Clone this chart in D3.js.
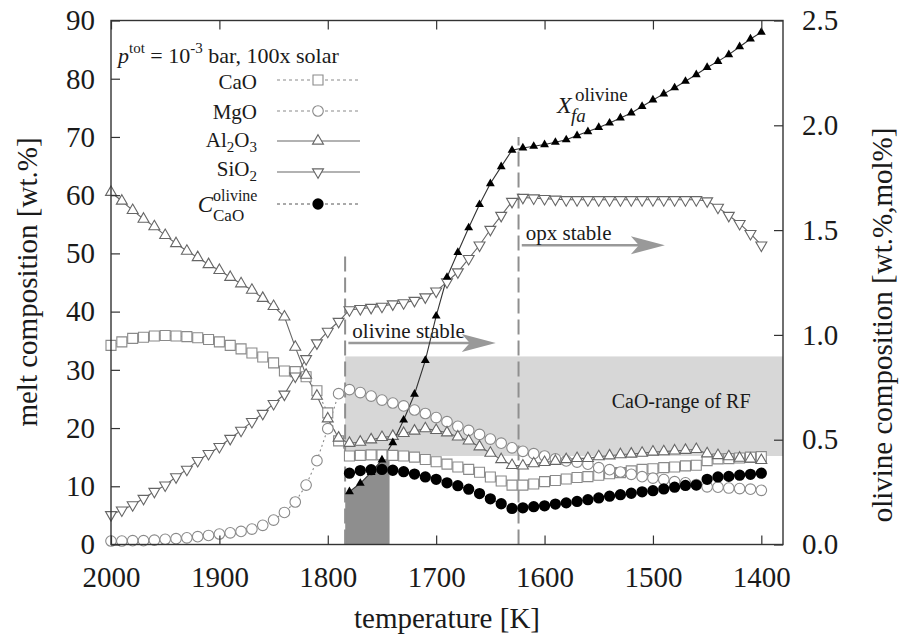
<!DOCTYPE html>
<html>
<head>
<meta charset="utf-8">
<script src="https://cdn.jsdelivr.net/npm/d3@7"></script>
<style>
  body { margin: 0; background: #fff; }
  svg { display: block; }
  text { font-family: "Liberation Serif", "Times New Roman", Times, serif; fill: #1a1a1a; }
</style>
</head>
<body>
<svg id="chart" width="906" height="638"></svg>
<script>
// Melt composition along the cooling path, 10 K steps
const temperature = [2000,1990,1980,1970,1960,1950,1940,1930,1920,1910,1900,1890,1880,1870,1860,1850,1840,1830,1820,1810,1800,1790,1780,1770,1760,1750,1740,1730,1720,1710,1700,1690,1680,1670,1660,1650,1640,1630,1620,1610,1600,1590,1580,1570,1560,1550,1540,1530,1520,1510,1500,1490,1480,1470,1460,1450,1440,1430,1420,1410,1400];

const cao   = [34.2,34.8,35.4,35.6,35.8,35.9,35.8,35.7,35.5,35.2,34.8,34.2,33.6,32.9,32.2,31.2,29.8,29.7,28.8,26.4,22.6,17.8,15.2,15.3,15.4,15.4,15.3,15.2,15.0,14.6,14.2,13.8,13.3,12.9,12.4,11.6,10.9,10.2,10.2,10.4,10.8,11.0,11.25,11.5,11.65,11.9,12.15,12.35,12.65,12.9,13.0,13.2,13.3,13.5,13.6,14.4,14.7,14.75,14.85,15.0,15.1];
const mgo   = [0.6,0.6,0.65,0.65,0.75,0.9,1.0,1.15,1.35,1.55,1.8,2.0,2.25,2.65,3.3,4.2,5.5,7.3,10.2,14.4,19.9,25.9,26.6,26.1,25.5,24.8,24.3,23.8,23.1,22.5,21.8,21.1,20.3,19.6,18.9,18.1,17.4,16.6,16.0,15.6,15.2,14.7,14.35,14.15,13.8,13.2,12.85,12.45,12.05,11.65,11.4,11.15,10.8,10.6,10.3,9.9,9.85,9.7,9.6,9.5,9.3];
const al2o3 = [60.5,59.0,57.4,55.9,54.6,53.1,51.7,50.4,49.3,48.1,47.1,45.9,44.8,43.7,42.3,40.9,39.1,33.9,29.1,25.5,21.6,18.3,17.4,17.6,18.0,18.4,18.6,19.1,19.5,19.9,19.6,19.2,18.5,17.8,16.8,15.7,14.6,13.6,13.5,13.9,14.1,14.3,14.6,14.8,14.8,15.1,15.25,15.45,15.55,15.7,15.9,15.95,16.1,16.2,16.35,15.6,15.3,15.1,14.85,14.7,14.45];
const sio2  = [5.1,5.9,6.8,7.9,9.1,10.2,11.6,12.9,14.4,15.6,16.8,18.2,19.6,21.1,22.5,24.2,25.8,28.9,31.9,34.6,36.6,38.3,40.3,40.5,40.7,40.9,41.3,41.5,41.9,42.5,43.5,45.1,46.8,49.1,51.4,54.1,56.5,58.9,59.6,59.5,59.4,59.3,59.2,59.2,59.2,59.2,59.2,59.2,59.2,59.2,59.2,59.2,59.2,59.2,59.2,59.0,57.9,56.5,55.1,53.4,51.4];

// Olivine composition (present below the olivine-in boundary)
const olivineTemperature = [1780,1770,1760,1750,1740,1730,1720,1710,1700,1690,1680,1670,1660,1650,1640,1630,1620,1610,1600,1590,1580,1570,1560,1550,1540,1530,1520,1510,1500,1490,1480,1470,1460,1450,1440,1430,1420,1410,1400];
const caoOlivine = [12.25,12.7,12.85,12.9,12.75,12.5,12.1,11.6,11.2,10.6,10.1,9.5,8.75,7.85,7.0,6.2,6.3,6.5,6.65,6.95,7.15,7.4,7.7,8.0,8.3,8.55,8.8,9.05,9.25,9.55,9.85,10.15,10.2,11.2,11.6,11.7,11.9,12.05,12.25];
const xFaOlivine = [0.252,0.292,0.344,0.404,0.486,0.594,0.717,0.878,1.09,1.275,1.394,1.511,1.622,1.722,1.803,1.881,1.892,1.90,1.908,1.919,1.931,1.951,1.970,1.99,2.011,2.035,2.059,2.09,2.121,2.15,2.179,2.21,2.242,2.276,2.305,2.337,2.375,2.412,2.444];

// Axis ticks
const xTicks  = [2000,1900,1800,1700,1600,1500,1400];
const yTicks  = [0,10,20,30,40,50,60,70,80,90];
const y2Ticks = [0,0.5,1.0,1.5,2.0,2.5];

// Phase boundaries (olivine-in, opx-in) and the heights their markers reach
const phaseBoundaries = [1784, 1624];
const boundaryTops    = [50.5, 70.0];

// CaO range of RF (wt.%), and the fayalite window shaded under the X_fa curve
const rfCaORange  = [15.2, 32.3];
const faWindow    = [1784, 1743];
const faWindowCap = 0.42;
const faAtBoundary = 0.245;

// ------------------------------------------------------------------
const svg = d3.select("#chart");
const x  = d3.scaleLinear().domain([2000, 1380]).range([111, 783]);
const y  = d3.scaleLinear().domain([0, 90]).range([544.5, 20.5]);
const y2 = d3.scaleLinear().domain([0, 2.5]).range([544.5, 20.5]);
const [xl, xr] = x.range();
const [yb, yt] = y.range();

// Shaded CaO range
svg.append("rect")
  .attr("x", x(phaseBoundaries[0])).attr("width", xr - x(phaseBoundaries[0]))
  .attr("y", y(rfCaORange[1])).attr("height", y(rfCaORange[0]) - y(rfCaORange[1]))
  .attr("fill", "#d7d7d7");

// Dark shaded fayalite window
svg.append("clipPath").attr("id", "faClip").append("rect")
  .attr("x", x(faWindow[0])).attr("width", x(faWindow[1]) - x(faWindow[0]))
  .attr("y", y2(faWindowCap)).attr("height", y2(0) - y2(faWindowCap));
const faArea = [{t: faWindow[0], v: faAtBoundary}]
  .concat(olivineTemperature.map((t, i) => ({t, v: xFaOlivine[i]})).filter(d => d.t >= 1730));
svg.append("path")
  .datum(faArea)
  .attr("clip-path", "url(#faClip)")
  .attr("fill", "#8e8e8e")
  .attr("d", d3.area().x(d => x(d.t)).y0(y2(0)).y1(d => y2(d.v)));

// Phase boundary markers
svg.append("g").selectAll("line").data(phaseBoundaries).join("line")
  .attr("x1", d => x(d)).attr("x2", d => x(d))
  .attr("y1", yb).attr("y2", (d, i) => y(boundaryTops[i]))
  .attr("stroke", "#8f8f8f").attr("stroke-width", 2).attr("stroke-dasharray", "15,6");

// Stability arrows
function arrow(t0, t1, v, label) {
  const g = svg.append("g");
  const x0 = x(t0), x1 = x(t1), yy = y(v);
  g.append("line").attr("x1", x0).attr("x2", x1 - 24).attr("y1", yy).attr("y2", yy)
    .attr("stroke", "#999").attr("stroke-width", 2.6);
  g.append("path")
    .attr("d", `M${x1},${yy} L${x1 - 34},${yy - 9} L${x1 - 26},${yy} L${x1 - 34},${yy + 9} Z`)
    .attr("fill", "#999");
  g.append("text").attr("x", x0 + 4).attr("y", yy - 5)
    .attr("font-size", 21).text(label);
}
arrow(1781, 1645, 34.6, "olivine stable");
arrow(1621, 1489, 51.4, "opx stable");

svg.append("text")
  .attr("x", x(1474)).attr("y", y(23.4)).attr("text-anchor", "middle")
  .attr("font-size", 20).text("CaO-range of RF");

// Symbols
const sym = {
  square:   d3.symbol(d3.symbolSquare, 100),
  circle:   d3.symbol(d3.symbolCircle, 88),
  triUp:    d3.symbol(d3.symbolTriangle, 52),
  triDown:  d3.symbol(d3.symbolTriangle, 52),
  dot:      d3.symbol(d3.symbolCircle, 100),
  triSmall: d3.symbol(d3.symbolTriangle, 34)
};

const series = [
  {key: "CaO",   values: cao,   shape: "square", dash: "2,3", line: "#8a8a8a", mark: "#8a8a8a"},
  {key: "MgO",   values: mgo,   shape: "circle", dash: "2,3", line: "#8a8a8a", mark: "#8a8a8a"},
  {key: "Al2O3", values: al2o3, shape: "triUp",  dash: null,  line: "#666",    mark: "#666"},
  {key: "SiO2",  values: sio2,  shape: "triDown",dash: null,  line: "#666",    mark: "#666"}
];

const line = d3.line().x(d => x(d.t)).y(d => y(d.v));

series.forEach(s => {
  const pts = temperature.map((t, i) => ({t, v: s.values[i]}));
  svg.append("path").datum(pts).attr("d", line)
    .attr("fill", "none").attr("stroke", s.line).attr("stroke-width", 1.1)
    .attr("stroke-dasharray", s.dash);
});

const caoOlPts = olivineTemperature.map((t, i) => ({t, v: caoOlivine[i]}));
svg.append("path").datum(caoOlPts).attr("d", line)
  .attr("fill", "none").attr("stroke", "#333").attr("stroke-width", 1).attr("stroke-dasharray", "2,3");

const faPts = olivineTemperature.map((t, i) => ({t, v: xFaOlivine[i]}));
svg.append("path").datum(faPts)
  .attr("d", d3.line().x(d => x(d.t)).y(d => y2(d.v)))
  .attr("fill", "none").attr("stroke", "#333").attr("stroke-width", 1.1);

series.forEach(s => {
  svg.append("g").selectAll("path")
    .data(temperature.map((t, i) => ({t, v: s.values[i]})))
    .join("path")
    .attr("d", sym[s.shape])
    .attr("transform", d => `translate(${x(d.t)},${y(d.v)})` + (s.shape === "triDown" ? " rotate(180)" : ""))
    .attr("fill", "#fff").attr("stroke", s.mark).attr("stroke-width", 1.1);
});

svg.append("g").selectAll("path").data(caoOlPts).join("path")
  .attr("d", sym.dot)
  .attr("transform", d => `translate(${x(d.t)},${y(d.v)})`)
  .attr("fill", "#000");

svg.append("g").selectAll("path").data(faPts).join("path")
  .attr("d", sym.triSmall)
  .attr("transform", d => `translate(${x(d.t)},${y2(d.v)})`)
  .attr("fill", "#000");

// X_fa label
svg.append("text").attr("x", 557).attr("y", 113).attr("font-size", 24)
  .attr("font-style", "italic").text("X");
svg.append("text").attr("x", 575).attr("y", 101).attr("font-size", 19).text("olivine");
svg.append("text").attr("x", 571).attr("y", 122).attr("font-size", 19)
  .attr("font-style", "italic").text("fa");

// Axes (ticks point inward on all four sides)
function styleAxis(g, fs) {
  g.select(".domain").remove();
  g.selectAll(".tick line").attr("stroke", "#333").attr("stroke-width", 1.2);
  g.selectAll(".tick text").attr("font-size", fs)
    .attr("font-family", "'Liberation Serif', 'Times New Roman', serif").attr("fill", "#1a1a1a");
}
svg.append("g").attr("transform", `translate(0,${yb})`)
  .call(d3.axisBottom(x).tickValues(xTicks).tickSize(-9).tickPadding(22).tickFormat(d3.format("d")))
  .call(g => styleAxis(g, 29));
svg.append("g").attr("transform", `translate(0,${yt})`)
  .call(d3.axisTop(x).tickValues(xTicks).tickSize(-9).tickFormat(""))
  .call(g => styleAxis(g, 29));
svg.append("g").attr("transform", `translate(${xl},0)`)
  .call(d3.axisLeft(y).tickValues(yTicks).tickSize(-9).tickPadding(16).tickFormat(d3.format("d")))
  .call(g => styleAxis(g, 29));
svg.append("g").attr("transform", `translate(${xr},0)`)
  .call(d3.axisRight(y2).tickValues(y2Ticks).tickSize(-9).tickPadding(19).tickFormat(d3.format(".1f")))
  .call(g => styleAxis(g, 29));

svg.append("rect").attr("x", xl).attr("y", yt).attr("width", xr - xl).attr("height", yb - yt)
  .attr("fill", "none").attr("stroke", "#333").attr("stroke-width", 1.4);

// Axis titles
svg.append("text").attr("x", (xl + xr) / 2).attr("y", 628).attr("text-anchor", "middle")
  .attr("font-size", 29).text("temperature [K]");
svg.append("text").attr("transform", "translate(37,282) rotate(-90)").attr("text-anchor", "middle")
  .attr("font-size", 29).text("melt composition [wt.%]");
svg.append("text").attr("transform", "translate(892,325) rotate(-90)").attr("text-anchor", "middle")
  .attr("font-size", 29).text("olivine composition [wt.%,mol%]");

// Legend
const lg = svg.append("g");
const head = lg.append("text").attr("x", 118).attr("y", 63).attr("font-size", 22);
head.append("tspan").attr("font-style", "italic").text("p");
head.append("tspan").attr("font-size", 15).attr("dy", -10).text("tot");
head.append("tspan").attr("dy", 10).text(" = 10");
head.append("tspan").attr("font-size", 15).attr("dy", -10).text("-3");
head.append("tspan").attr("dy", 10).text(" bar, 100x solar");

const legendRows = [
  {parts: [["CaO"]], yLine: 80, yText: 89, shape: "square", dash: "3,3", col: "#8a8a8a"},
  {parts: [["MgO"]], yLine: 111, yText: 119, shape: "circle", dash: "3,3", col: "#8a8a8a"},
  {parts: [["Al"], ["2", 1], ["O"], ["3", 1]], yLine: 141, yText: 147, shape: "triUp", dash: null, col: "#666"},
  {parts: [["SiO"], ["2", 1]], yLine: 172, yText: 176, shape: "triDown", dash: null, col: "#666"}
];
legendRows.forEach(r => {
  const t = lg.append("text").attr("x", 257).attr("y", r.yText).attr("text-anchor", "end").attr("font-size", 21);
  let shifted = false;
  r.parts.forEach(([s, sub]) => {
    const sp = t.append("tspan").text(s);
    if (sub) { sp.attr("font-size", 15).attr("dy", 5); shifted = true; }
    else if (shifted) { sp.attr("dy", -5); shifted = false; }
  });
  lg.append("line").attr("x1", 277).attr("x2", 360).attr("y1", r.yLine).attr("y2", r.yLine)
    .attr("stroke", r.col).attr("stroke-width", 1.1).attr("stroke-dasharray", r.dash);
  lg.append("path").attr("d", sym[r.shape])
    .attr("transform", `translate(318,${r.yLine})` + (r.shape === "triDown" ? " rotate(180)" : ""))
    .attr("fill", "#fff").attr("stroke", r.col).attr("stroke-width", 1.1);
});
lg.append("text").attr("x", 213).attr("y", 212).attr("text-anchor", "end")
  .attr("font-size", 23).attr("font-style", "italic").text("C");
lg.append("text").attr("x", 213).attr("y", 201).attr("font-size", 16).text("olivine");
lg.append("text").attr("x", 213).attr("y", 221).attr("font-size", 17).text("CaO");
lg.append("line").attr("x1", 277).attr("x2", 360).attr("y1", 204).attr("y2", 204)
  .attr("stroke", "#555").attr("stroke-width", 1).attr("stroke-dasharray", "3,3");
lg.append("path").attr("d", sym.dot).attr("transform", "translate(318,204)").attr("fill", "#000");
</script>
</body>
</html>
